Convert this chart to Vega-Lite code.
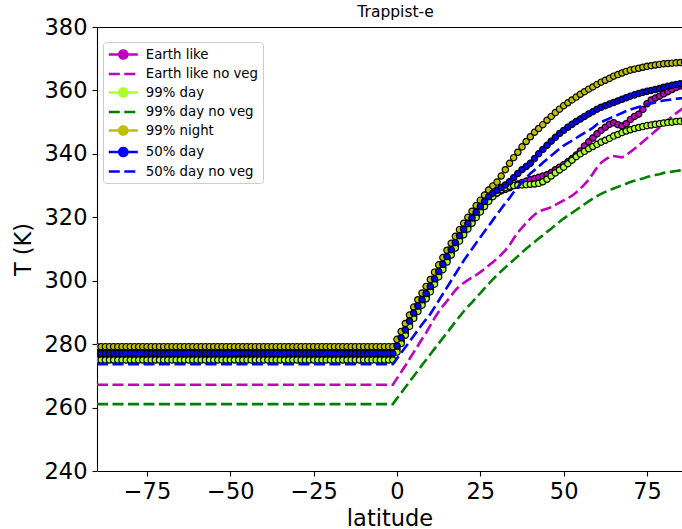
{
"$schema": "https://vega.github.io/schema/vega-lite/v6.json",
"width": 585, "height": 444,
"autosize": {"type": "none"},
"padding": {"left": 97, "top": 27, "right": 0, "bottom": 58},
"background": "white",
"config": {
  "font": "DejaVu Sans",
  "view": {"stroke": null},
  "axis": {"domainColor": "black", "tickColor": "black", "labelColor": "black", "titleColor": "black", "grid": false,
           "labelFont": "DejaVu Sans", "titleFont": "DejaVu Sans", "labelFontSize": 22.5, "titleFontSize": 22.5,
           "titleFontWeight": "normal", "tickSize": 5, "domainWidth": 1.1, "tickWidth": 1.1}
},
"title": {"text": "Trappist-e", "fontSize": 15.5, "fontWeight": "normal", "font": "DejaVu Sans", "color": "black", "offset": -16.8, "dx": 6, "baseline": "alphabetic", "anchor": "middle", "frame": "group"},
"data": {"values": [
{"lat":-90,"a":277,"b":267.2,"c":275,"d":261.1,"e":279.2,"f":277.1,"g":273.7},
{"lat":-88.75,"a":277,"b":267.2,"c":275,"d":261.1,"e":279.2,"f":277.1,"g":273.7},
{"lat":-87.5,"a":277,"b":267.2,"c":275,"d":261.1,"e":279.2,"f":277.1,"g":273.7},
{"lat":-86.25,"a":277,"b":267.2,"c":275,"d":261.1,"e":279.2,"f":277.1,"g":273.7},
{"lat":-85,"a":277,"b":267.2,"c":275,"d":261.1,"e":279.2,"f":277.1,"g":273.7},
{"lat":-83.75,"a":277,"b":267.2,"c":275,"d":261.1,"e":279.2,"f":277.1,"g":273.7},
{"lat":-82.5,"a":277,"b":267.2,"c":275,"d":261.1,"e":279.2,"f":277.1,"g":273.7},
{"lat":-81.25,"a":277,"b":267.2,"c":275,"d":261.1,"e":279.2,"f":277.1,"g":273.7},
{"lat":-80,"a":277,"b":267.2,"c":275,"d":261.1,"e":279.2,"f":277.1,"g":273.7},
{"lat":-78.75,"a":277,"b":267.2,"c":275,"d":261.1,"e":279.2,"f":277.1,"g":273.7},
{"lat":-77.5,"a":277,"b":267.2,"c":275,"d":261.1,"e":279.2,"f":277.1,"g":273.7},
{"lat":-76.25,"a":277,"b":267.2,"c":275,"d":261.1,"e":279.2,"f":277.1,"g":273.7},
{"lat":-75,"a":277,"b":267.2,"c":275,"d":261.1,"e":279.2,"f":277.1,"g":273.7},
{"lat":-73.75,"a":277,"b":267.2,"c":275,"d":261.1,"e":279.2,"f":277.1,"g":273.7},
{"lat":-72.5,"a":277,"b":267.2,"c":275,"d":261.1,"e":279.2,"f":277.1,"g":273.7},
{"lat":-71.25,"a":277,"b":267.2,"c":275,"d":261.1,"e":279.2,"f":277.1,"g":273.7},
{"lat":-70,"a":277,"b":267.2,"c":275,"d":261.1,"e":279.2,"f":277.1,"g":273.7},
{"lat":-68.75,"a":277,"b":267.2,"c":275,"d":261.1,"e":279.2,"f":277.1,"g":273.7},
{"lat":-67.5,"a":277,"b":267.2,"c":275,"d":261.1,"e":279.2,"f":277.1,"g":273.7},
{"lat":-66.25,"a":277,"b":267.2,"c":275,"d":261.1,"e":279.2,"f":277.1,"g":273.7},
{"lat":-65,"a":277,"b":267.2,"c":275,"d":261.1,"e":279.2,"f":277.1,"g":273.7},
{"lat":-63.75,"a":277,"b":267.2,"c":275,"d":261.1,"e":279.2,"f":277.1,"g":273.7},
{"lat":-62.5,"a":277,"b":267.2,"c":275,"d":261.1,"e":279.2,"f":277.1,"g":273.7},
{"lat":-61.25,"a":277,"b":267.2,"c":275,"d":261.1,"e":279.2,"f":277.1,"g":273.7},
{"lat":-60,"a":277,"b":267.2,"c":275,"d":261.1,"e":279.2,"f":277.1,"g":273.7},
{"lat":-58.75,"a":277,"b":267.2,"c":275,"d":261.1,"e":279.2,"f":277.1,"g":273.7},
{"lat":-57.5,"a":277,"b":267.2,"c":275,"d":261.1,"e":279.2,"f":277.1,"g":273.7},
{"lat":-56.25,"a":277,"b":267.2,"c":275,"d":261.1,"e":279.2,"f":277.1,"g":273.7},
{"lat":-55,"a":277,"b":267.2,"c":275,"d":261.1,"e":279.2,"f":277.1,"g":273.7},
{"lat":-53.75,"a":277,"b":267.2,"c":275,"d":261.1,"e":279.2,"f":277.1,"g":273.7},
{"lat":-52.5,"a":277,"b":267.2,"c":275,"d":261.1,"e":279.2,"f":277.1,"g":273.7},
{"lat":-51.25,"a":277,"b":267.2,"c":275,"d":261.1,"e":279.2,"f":277.1,"g":273.7},
{"lat":-50,"a":277,"b":267.2,"c":275,"d":261.1,"e":279.2,"f":277.1,"g":273.7},
{"lat":-48.75,"a":277,"b":267.2,"c":275,"d":261.1,"e":279.2,"f":277.1,"g":273.7},
{"lat":-47.5,"a":277,"b":267.2,"c":275,"d":261.1,"e":279.2,"f":277.1,"g":273.7},
{"lat":-46.25,"a":277,"b":267.2,"c":275,"d":261.1,"e":279.2,"f":277.1,"g":273.7},
{"lat":-45,"a":277,"b":267.2,"c":275,"d":261.1,"e":279.2,"f":277.1,"g":273.7},
{"lat":-43.75,"a":277,"b":267.2,"c":275,"d":261.1,"e":279.2,"f":277.1,"g":273.7},
{"lat":-42.5,"a":277,"b":267.2,"c":275,"d":261.1,"e":279.2,"f":277.1,"g":273.7},
{"lat":-41.25,"a":277,"b":267.2,"c":275,"d":261.1,"e":279.2,"f":277.1,"g":273.7},
{"lat":-40,"a":277,"b":267.2,"c":275,"d":261.1,"e":279.2,"f":277.1,"g":273.7},
{"lat":-38.75,"a":277,"b":267.2,"c":275,"d":261.1,"e":279.2,"f":277.1,"g":273.7},
{"lat":-37.5,"a":277,"b":267.2,"c":275,"d":261.1,"e":279.2,"f":277.1,"g":273.7},
{"lat":-36.25,"a":277,"b":267.2,"c":275,"d":261.1,"e":279.2,"f":277.1,"g":273.7},
{"lat":-35,"a":277,"b":267.2,"c":275,"d":261.1,"e":279.2,"f":277.1,"g":273.7},
{"lat":-33.75,"a":277,"b":267.2,"c":275,"d":261.1,"e":279.2,"f":277.1,"g":273.7},
{"lat":-32.5,"a":277,"b":267.2,"c":275,"d":261.1,"e":279.2,"f":277.1,"g":273.7},
{"lat":-31.25,"a":277,"b":267.2,"c":275,"d":261.1,"e":279.2,"f":277.1,"g":273.7},
{"lat":-30,"a":277,"b":267.2,"c":275,"d":261.1,"e":279.2,"f":277.1,"g":273.7},
{"lat":-28.75,"a":277,"b":267.2,"c":275,"d":261.1,"e":279.2,"f":277.1,"g":273.7},
{"lat":-27.5,"a":277,"b":267.2,"c":275,"d":261.1,"e":279.2,"f":277.1,"g":273.7},
{"lat":-26.25,"a":277,"b":267.2,"c":275,"d":261.1,"e":279.2,"f":277.1,"g":273.7},
{"lat":-25,"a":277,"b":267.2,"c":275,"d":261.1,"e":279.2,"f":277.1,"g":273.7},
{"lat":-23.75,"a":277,"b":267.2,"c":275,"d":261.1,"e":279.2,"f":277.1,"g":273.7},
{"lat":-22.5,"a":277,"b":267.2,"c":275,"d":261.1,"e":279.2,"f":277.1,"g":273.7},
{"lat":-21.25,"a":277,"b":267.2,"c":275,"d":261.1,"e":279.2,"f":277.1,"g":273.7},
{"lat":-20,"a":277,"b":267.2,"c":275,"d":261.1,"e":279.2,"f":277.1,"g":273.7},
{"lat":-18.75,"a":277,"b":267.2,"c":275,"d":261.1,"e":279.2,"f":277.1,"g":273.7},
{"lat":-17.5,"a":277,"b":267.2,"c":275,"d":261.1,"e":279.2,"f":277.1,"g":273.7},
{"lat":-16.25,"a":277,"b":267.2,"c":275,"d":261.1,"e":279.2,"f":277.1,"g":273.7},
{"lat":-15,"a":277,"b":267.2,"c":275,"d":261.1,"e":279.2,"f":277.1,"g":273.7},
{"lat":-13.75,"a":277,"b":267.2,"c":275,"d":261.1,"e":279.2,"f":277.1,"g":273.7},
{"lat":-12.5,"a":277,"b":267.2,"c":275,"d":261.1,"e":279.2,"f":277.1,"g":273.7},
{"lat":-11.25,"a":277,"b":267.2,"c":275,"d":261.1,"e":279.2,"f":277.1,"g":273.7},
{"lat":-10,"a":277,"b":267.2,"c":275,"d":261.1,"e":279.2,"f":277.1,"g":273.7},
{"lat":-8.75,"a":277,"b":267.2,"c":275,"d":261.1,"e":279.2,"f":277.1,"g":273.7},
{"lat":-7.5,"a":277,"b":267.2,"c":275,"d":261.1,"e":279.2,"f":277.1,"g":273.7},
{"lat":-6.25,"a":277,"b":267.2,"c":275,"d":261.1,"e":279.2,"f":277.1,"g":273.7},
{"lat":-5,"a":277,"b":267.2,"c":275,"d":261.1,"e":279.2,"f":277.1,"g":273.7},
{"lat":-3.75,"a":277,"b":267.2,"c":275,"d":261.1,"e":279.2,"f":277.1,"g":273.7},
{"lat":-2.5,"a":277,"b":267.2,"c":275,"d":261.1,"e":279.2,"f":277.1,"g":273.7},
{"lat":-1.25,"a":277,"b":267.2,"c":275,"d":261.1,"e":279.2,"f":277.1,"g":273.7},
{"lat":0,"a":278.5,"b":269.2,"c":277.5,"d":262.9,"e":281.5,"f":279.5,"g":275.5},
{"lat":1.25,"a":281,"b":271.2,"c":280.2,"d":264.6,"e":284,"f":282,"g":277.3},
{"lat":2.5,"a":283.5,"b":273.2,"c":282.8,"d":266.4,"e":286.5,"f":284.5,"g":279},
{"lat":3.75,"a":286.3,"b":275.3,"c":285.6,"d":268.1,"e":289.2,"f":287.3,"g":280.8},
{"lat":5,"a":288.8,"b":277.4,"c":288.1,"d":269.9,"e":291.7,"f":289.8,"g":282.6},
{"lat":6.25,"a":291,"b":279.5,"c":290.3,"d":271.6,"e":294,"f":292,"g":284.4},
{"lat":7.5,"a":293,"b":281.6,"c":292.3,"d":273.4,"e":296.1,"f":294,"g":286.2},
{"lat":8.75,"a":295,"b":283.6,"c":294.3,"d":275.1,"e":298.2,"f":296,"g":287.9},
{"lat":10,"a":297.2,"b":285.9,"c":296.5,"d":276.8,"e":300.4,"f":298.2,"g":289.5},
{"lat":11.25,"a":299.6,"b":288.2,"c":298.9,"d":278.5,"e":302.7,"f":300.6,"g":291.6},
{"lat":12.5,"a":301.9,"b":290.2,"c":301.2,"d":280.2,"e":305,"f":302.9,"g":293.7},
{"lat":13.75,"a":304.2,"b":292,"c":303.5,"d":281.9,"e":307.3,"f":305.2,"g":295.8},
{"lat":15,"a":306.6,"b":293.6,"c":305.9,"d":283.6,"e":309.6,"f":307.6,"g":297.9},
{"lat":16.25,"a":308.8,"b":295.3,"c":308.1,"d":285.3,"e":311.8,"f":309.8,"g":300},
{"lat":17.5,"a":311,"b":297,"c":310.3,"d":287,"e":314,"f":312,"g":302.1},
{"lat":18.75,"a":313.2,"b":298.3,"c":312.5,"d":288.7,"e":316.1,"f":314.2,"g":304.2},
{"lat":20,"a":315.2,"b":299.3,"c":314.5,"d":290.3,"e":318.1,"f":316.2,"g":306.3},
{"lat":21.25,"a":317,"b":300.2,"c":316.3,"d":291.8,"e":320,"f":318,"g":308.2},
{"lat":22.5,"a":318.8,"b":301,"c":318.1,"d":293.2,"e":321.9,"f":319.8,"g":310},
{"lat":23.75,"a":320.6,"b":301.8,"c":319.9,"d":294.7,"e":323.7,"f":321.6,"g":311.9},
{"lat":25,"a":322.4,"b":302.7,"c":321.7,"d":296.1,"e":325.4,"f":323.4,"g":313.7},
{"lat":26.25,"a":324,"b":303.7,"c":323.4,"d":297.6,"e":327,"f":325,"g":315.5},
{"lat":27.5,"a":325.5,"b":304.8,"c":325,"d":299,"e":328.6,"f":326.5,"g":317.3},
{"lat":28.75,"a":326.7,"b":305.8,"c":326.5,"d":300.4,"e":329.9,"f":327.6,"g":319.1},
{"lat":30,"a":327.6,"b":307,"c":327.7,"d":301.8,"e":331.1,"f":328.5,"g":320.9},
{"lat":31.25,"a":328.3,"b":308.2,"c":328.7,"d":303,"e":333,"f":329.4,"g":322.7},
{"lat":32.5,"a":328.8,"b":309.6,"c":329.4,"d":304.2,"e":335,"f":330.2,"g":324.4},
{"lat":33.75,"a":329.3,"b":311.2,"c":329.8,"d":305.4,"e":337,"f":331.2,"g":326.1},
{"lat":35,"a":330,"b":313.3,"c":330,"d":306.5,"e":338.8,"f":332.5,"g":327.9},
{"lat":36.25,"a":330.5,"b":315.2,"c":330.1,"d":307.7,"e":340.5,"f":333.8,"g":329.5},
{"lat":37.5,"a":331,"b":316.7,"c":330.2,"d":308.9,"e":342.2,"f":335,"g":331},
{"lat":38.75,"a":331.4,"b":318.2,"c":330.3,"d":310.1,"e":343.9,"f":336,"g":332.4},
{"lat":40,"a":331.8,"b":319.6,"c":330.4,"d":311.2,"e":345.4,"f":337,"g":333.8},
{"lat":41.25,"a":332.2,"b":320.8,"c":330.5,"d":312.2,"e":346.8,"f":338.5,"g":334.9},
{"lat":42.5,"a":332.6,"b":321.8,"c":330.7,"d":313.3,"e":348,"f":340,"g":336},
{"lat":43.75,"a":333,"b":322.3,"c":331.2,"d":314.3,"e":349.2,"f":341.4,"g":337.2},
{"lat":45,"a":333.4,"b":322.7,"c":332,"d":315.4,"e":350.6,"f":342.7,"g":338.3},
{"lat":46.25,"a":334.1,"b":323.2,"c":333,"d":316.4,"e":351.8,"f":344,"g":339.4},
{"lat":47.5,"a":335,"b":323.9,"c":334,"d":317.5,"e":353,"f":345.2,"g":340.5},
{"lat":48.75,"a":335.8,"b":324.6,"c":334.9,"d":318.6,"e":354.1,"f":346.4,"g":341.6},
{"lat":50,"a":336.6,"b":325.3,"c":335.8,"d":319.6,"e":355.2,"f":347.4,"g":342.6},
{"lat":51.25,"a":337.5,"b":326,"c":336.9,"d":320.5,"e":356.1,"f":348.4,"g":343.4},
{"lat":52.5,"a":338.5,"b":326.8,"c":338,"d":321.4,"e":357,"f":349.3,"g":344.2},
{"lat":53.75,"a":339.6,"b":327.8,"c":339.1,"d":322.3,"e":357.9,"f":350.2,"g":345},
{"lat":55,"a":340.9,"b":329,"c":340,"d":323.2,"e":358.8,"f":351,"g":345.8},
{"lat":56.25,"a":342.5,"b":330.4,"c":340.8,"d":324.1,"e":359.6,"f":351.8,"g":346.6},
{"lat":57.5,"a":343.8,"b":331.8,"c":341.6,"d":325,"e":360.4,"f":352.6,"g":347.4},
{"lat":58.75,"a":345,"b":333.7,"c":342.3,"d":325.9,"e":361.1,"f":353.3,"g":348.2},
{"lat":60,"a":346.3,"b":335.7,"c":343,"d":326.7,"e":361.9,"f":354.1,"g":349.3},
{"lat":61.25,"a":347.4,"b":337.2,"c":343.7,"d":327.4,"e":362.6,"f":354.7,"g":350},
{"lat":62.5,"a":348.4,"b":338.2,"c":344.3,"d":328,"e":363.2,"f":355.2,"g":350.6},
{"lat":63.75,"a":349.3,"b":339,"c":344.9,"d":328.6,"e":363.8,"f":355.7,"g":351.2},
{"lat":65,"a":349.8,"b":339.3,"c":345.6,"d":329.1,"e":364.5,"f":356.2,"g":351.7},
{"lat":66.25,"a":349.2,"b":339.1,"c":346.1,"d":329.6,"e":365,"f":356.7,"g":352.3},
{"lat":67.5,"a":348.8,"b":338.9,"c":346.7,"d":330.1,"e":365.5,"f":357.2,"g":352.9},
{"lat":68.75,"a":349.5,"b":339.6,"c":347.2,"d":330.6,"e":366,"f":357.7,"g":353.5},
{"lat":70,"a":350.8,"b":340.6,"c":347.6,"d":331.1,"e":366.4,"f":358.2,"g":354},
{"lat":71.25,"a":351.8,"b":341.6,"c":348,"d":331.5,"e":366.7,"f":358.6,"g":354.4},
{"lat":72.5,"a":352.5,"b":342.7,"c":348.3,"d":331.9,"e":367,"f":359,"g":354.8},
{"lat":73.75,"a":354,"b":343.8,"c":348.6,"d":332.2,"e":367.3,"f":359.4,"g":355.2},
{"lat":75,"a":355.8,"b":344.9,"c":348.9,"d":332.7,"e":367.6,"f":359.7,"g":355.6},
{"lat":76.25,"a":357,"b":346,"c":349.1,"d":333,"e":367.8,"f":360,"g":355.9},
{"lat":77.5,"a":357.6,"b":347.2,"c":349.3,"d":333.3,"e":368,"f":360.3,"g":356.2},
{"lat":78.75,"a":358.2,"b":348.3,"c":349.5,"d":333.6,"e":368.2,"f":360.6,"g":356.5},
{"lat":80,"a":358.9,"b":349.5,"c":349.7,"d":334,"e":368.4,"f":361,"g":356.8},
{"lat":81.25,"a":359.6,"b":350.6,"c":349.9,"d":334.2,"e":368.5,"f":361.3,"g":357},
{"lat":82.5,"a":360.3,"b":351.7,"c":350,"d":334.4,"e":368.6,"f":361.6,"g":357.2},
{"lat":83.75,"a":360.9,"b":352.8,"c":350.2,"d":334.6,"e":368.7,"f":361.9,"g":357.4},
{"lat":85,"a":361.4,"b":353.8,"c":350.3,"d":334.8,"e":368.8,"f":362.1,"g":357.5},
{"lat":86.25,"a":361.8,"b":354.6,"c":350.4,"d":335,"e":368.9,"f":362.3,"g":357.6}
]},
"transform": [{"fold": ["a","b","c","d","e","f","g"], "as": ["s","T"]}],
"layer": [
  {
    "transform": [{"filter": {"field": "s", "oneOf": ["a","b","c","d","e","f"]}}],
    "mark": {"type": "line", "strokeWidth": 2.6, "clip": true},
    "encoding": {
      "x": {"field": "lat", "type": "quantitative",
            "scale": {"domain": [-90, 85.5], "nice": false, "zero": false},
            "axis": {"values": [-75,-50,-25,0,25,50,75], "title": "latitude", "labelPadding": 4.5, "titlePadding": 4}},
      "y": {"field": "T", "type": "quantitative",
            "scale": {"domain": [240, 380], "nice": false, "zero": false},
            "axis": {"values": [240,260,280,300,320,340,360,380], "title": "T (K)", "labelPadding": 5, "titlePadding": 9}},
      "color": {"field": "s", "type": "nominal",
                "scale": {"domain": ["a","b","c","d","e","f","g"], "range": ["#bf00bf","#bf00bf","#adff2f","#008000","#bfbf00","#0000ff","#0000ff"]},
                "legend": {"title": null, "orient": "none", "legendX": 6, "legendY": 15,
                           "labelExpr": "datum.value=='a'?'Earth like':datum.value=='b'?'Earth like no veg':datum.value=='c'?'99% day':datum.value=='d'?'99% day no veg':datum.value=='e'?'99% night':datum.value=='f'?'50% day':'50% day no veg'",
                           "labelFont": "DejaVu Sans", "labelFontSize": 13.3, "labelColor": "black", "labelOffset": 14.5,
                           "symbolSize": 169, "symbolOffset": 7.8, "symbolStrokeWidth": 2.6, "padding": 4.5, "rowPadding": 1.5,
                           "strokeColor": "#cccccc", "fillColor": "rgba(255,255,255,0.8)", "cornerRadius": 3,
                           "encode": {"symbols": {"update": {
                              "shape": {"signal": "indexof(['b','d','g'],datum.value)>=0?'M-2.23,0H2.23':'M-2.23,0H-0.62M0.62,0H2.23M0.62,0A0.62,0.62,0,1,1,-0.62,0A0.62,0.62,0,1,1,0.62,0Z'"},
                              "strokeDash": {"signal": "indexof(['b','d','g'],datum.value)>=0?[11,4.5]:[1,0]"},
                              "fill": {"scale": "color", "field": "value"},
                              "stroke": {"scale": "color", "field": "value"},
                              "size": {"value": 169},
                              "strokeWidth": {"value": 2.6},
                              "opacity": {"value": 1}}}}}},
      "strokeDash": {"field": "s", "type": "nominal",
                     "scale": {"domain": ["a","b","c","d","e","f","g"], "range": [[1,0],[11,4.5],[1,0],[11,4.5],[1,0],[1,0],[11,4.5]]},
                     "legend": null}
    }
  },
  {
    "transform": [{"filter": {"field": "s", "oneOf": ["a","c","e","f"]}}],
    "mark": {"type": "point", "filled": true, "size": 40, "stroke": "black", "strokeWidth": 1.2, "opacity": 1, "clip": true},
    "encoding": {
      "x": {"field": "lat", "type": "quantitative", "axis": {"orient": "top", "labels": false, "ticks": false, "title": null, "domain": true, "minExtent": 0, "maxExtent": 0, "offset": 0}},
      "y": {"field": "T", "type": "quantitative"},
      "color": {"field": "s", "type": "nominal"},
      "order": {"field": "s", "sort": "ascending"}
    }
  },
  {
    "transform": [{"filter": {"field": "s", "oneOf": ["g"]}}],
    "mark": {"type": "line", "strokeWidth": 2.6, "clip": true},
    "encoding": {
      "x": {"field": "lat", "type": "quantitative", "axis": null},
      "y": {"field": "T", "type": "quantitative"},
      "color": {"field": "s", "type": "nominal"},
      "strokeDash": {"field": "s", "type": "nominal", "legend": null}
    }
  }
],
"resolve": {"axis": {"x": "independent"}}
}
